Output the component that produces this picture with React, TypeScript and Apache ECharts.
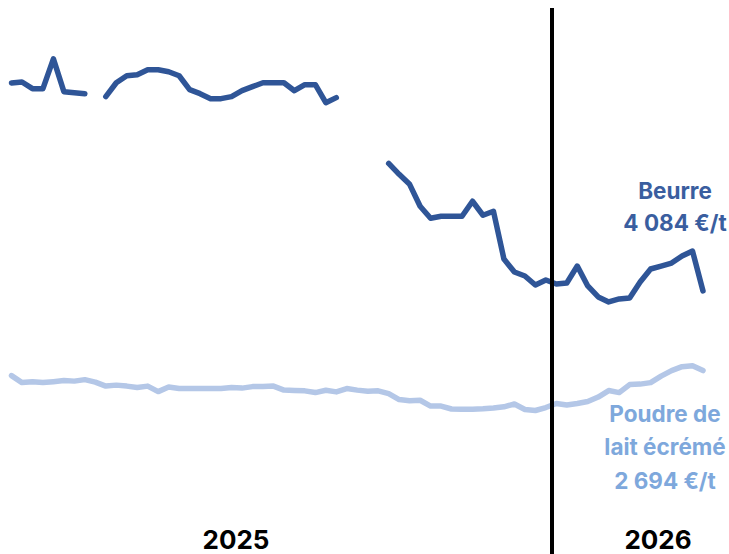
import { useEffect, useRef } from "react";
import * as echarts from "echarts";

// Weekly prices (€/t), 2025 week 1 … 2026 week 15
const beurre: (number | null)[] = [
  7715, 7733, 7616, 7616, 8138, 7564, 7546, 7529, null, 7477,
  7720, 7842, 7860, 7947, 7947, 7912, 7842, 7599, 7529, 7442,
  7442, 7477, 7581, 7651, 7720, 7720, 7720, 7581, 7686, 7686,
  7372, 7460, null, null, null, null, 6311, 6120, 5946, 5563,
  5354, 5389, 5389, 5389, 5650, 5406, 5476, 4641, 4414, 4345,
  4188, 4275, 4206, 4223, 4519, 4171, 3979, 3892, 3944, 3962,
  4240, 4467, 4519, 4571, 4693, 4780, 4084,
];
const poudre: number[] = [
  2605, 2483, 2500, 2483, 2500, 2518, 2509, 2535, 2492, 2422,
  2439, 2422, 2396, 2422, 2326, 2405, 2379, 2379, 2379, 2379,
  2379, 2396, 2387, 2413, 2413, 2422, 2352, 2344, 2339, 2309,
  2349, 2321, 2379, 2352, 2332, 2339, 2292, 2187, 2165, 2175,
  2074, 2074, 2022, 2018, 2018, 2025, 2039, 2060, 2109, 2013,
  1996, 2048, 2118, 2091, 2118, 2152, 2231, 2344, 2309, 2448,
  2457, 2483, 2596, 2692, 2761, 2779, 2694,
];
const yearLabels = ["2025", "2026"];
const newYearBreak = 51.53; // between last week of 2025 and first of 2026
const beurreLabel = ["Beurre", "4 084 €/t"];
const poudreLabel = ["Poudre de", "lait écrémé", "2 694 €/t"];

const BEURRE_COLOR = "#2f5597";
const BEURRE_TEXT = "#3a5e9f";
const POUDRE_COLOR = "#b4c7e7";
const POUDRE_TEXT = "#7ea8dc";
const FONT = "Inter, 'Open Sans', sans-serif";

export default function App() {
  const ref = useRef<HTMLDivElement>(null);
  useEffect(() => {
    document.body.style.margin = "0";
    if (!ref.current) return;
    const chart = echarts.init(ref.current, undefined, { renderer: "svg" });
    const toPairs = (arr: (number | null)[]) => arr.map((v, i) => [i, v]);
    chart.setOption({
      animation: false,
      backgroundColor: "#ffffff",
      grid: { left: 11.5, right: 26, top: 8, bottom: -2, containLabel: false },
      xAxis: {
        type: "value",
        min: 0,
        max: beurre.length - 1,
        show: false,
      },
      yAxis: {
        type: "value",
        min: -510,
        max: 9025,
        show: false,
      },
      series: [
        {
          name: "Poudre de lait écrémé",
          type: "line",
          data: toPairs(poudre),
          showSymbol: false,
          lineStyle: { color: POUDRE_COLOR, width: 5.5, cap: "round", join: "round" },
          itemStyle: { color: POUDRE_COLOR },
          z: 2,
        },
        {
          name: "Beurre",
          type: "line",
          data: toPairs(beurre),
          showSymbol: false,
          connectNulls: false,
          lineStyle: { color: BEURRE_COLOR, width: 5.5, cap: "round", join: "round" },
          itemStyle: { color: BEURRE_COLOR },
          z: 3,
        },
        {
          name: "separator",
          type: "line",
          data: [],
          z: 10,
          markLine: {
            silent: true,
            symbol: ["none", "none"],
            label: { show: false },
            lineStyle: { color: "#000000", width: 4, type: "solid" },
            data: [{ xAxis: newYearBreak }],
          },
        },
      ],
      graphic: [
        {
          type: "text",
          x: 236,
          y: 539,
          style: {
            text: yearLabels[0],
            fill: "#000000",
            font: `bold 26px ${FONT}`,
            align: "center",
            verticalAlign: "middle",
          },
        },
        {
          type: "text",
          x: 658,
          y: 539,
          style: {
            text: yearLabels[1],
            fill: "#000000",
            font: `bold 26px ${FONT}`,
            align: "center",
            verticalAlign: "middle",
          },
        },
        {
          type: "text",
          x: 675,
          y: 206,
          style: {
            text: beurreLabel.join("\n"),
            fill: BEURRE_TEXT,
            font: `bold 22.5px ${FONT}`,
            lineHeight: 32,
            align: "center",
            verticalAlign: "middle",
          },
        },
        {
          type: "text",
          x: 665,
          y: 446.5,
          style: {
            text: poudreLabel.join("\n"),
            fill: POUDRE_TEXT,
            font: `bold 22.5px ${FONT}`,
            lineHeight: 33.5,
            align: "center",
            verticalAlign: "middle",
          },
        },
      ],
    });
    return () => chart.dispose();
  }, []);
  return <div ref={ref} style={{ width: 729, height: 554 }} />;
}
